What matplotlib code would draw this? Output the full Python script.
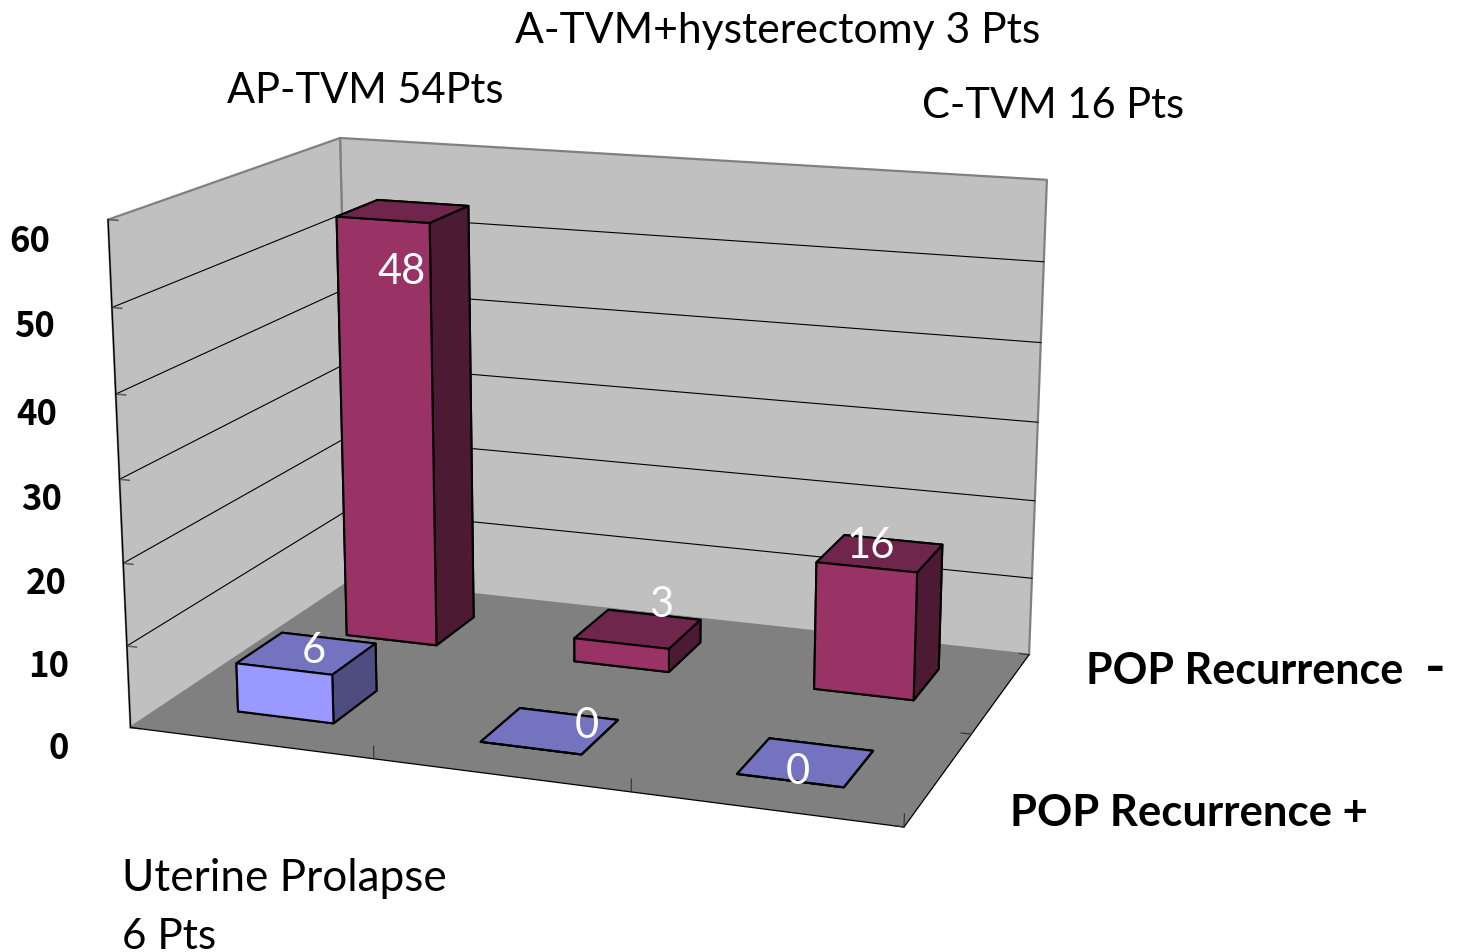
import numpy as np
import matplotlib
matplotlib.use('Agg')
import matplotlib.pyplot as plt
from mpl_toolkits.mplot3d import Axes3D
from mpl_toolkits.mplot3d.art3d import Poly3DCollection

# data
categories = ['Uterine Prolapse', 'AP-TVM', 'A-TVM+hysterectomy', 'C-TVM']
recurrence_plus = [6, 0, 0]
recurrence_minus = [54, 3, 16]       # height as drawn
labels_plus = ['6', '0', '0']
labels_minus = ['48', '3', '16']
z_ticks = [0, 10, 20, 30, 40, 50, 60]

W, H = 1462, 953
plt.rcParams['font.family'] = ['Lato', 'DejaVu Sans']

# camera: pixel position of known points of the chart box, (x, y, z) -> (px, py), weight
box_points = [
    ((0, 0, 0), (130.7, 728.7), 4), ((1, 0, 0), (371.7, 760), 1), ((2, 0, 0), (630, 795), 1),
    ((3, 0, 0), (904, 828), 4), ((3, 1, 0), (972, 735), 1), ((3, 2, 0), (1029, 655.7), 4),
    ((0, 2, 60), (340, 139), 4), ((3, 2, 60), (1047, 181), 4),
    ((0, 0, 60), (108, 220.7), 4), ((0, 0, 50), (112.7, 306.7), 1), ((0, 0, 40), (115, 395), 1),
    ((0, 0, 30), (120, 478), 1), ((0, 0, 20), (124, 562.7), 1), ((0, 0, 10), (127, 646.7), 1),
    ((3, 2, 10), (1033, 578), 1), ((3, 2, 20), (1035, 500), 1), ((3, 2, 30), (1038, 423), 1),
    ((3, 2, 40), (1040, 344), 1), ((3, 2, 50), (1044, 262), 1),
]

def fit_camera(points):
    rows = []
    for (x, y, z), (px, py), k in points:
        z = z / 20
        px, py = px / 1000, py / 1000
        rows.append(np.array([x, y, z, 1, 0, 0, 0, 0, -px*x, -px*y, -px*z, -px]) * k)
        rows.append(np.array([0, 0, 0, 0, x, y, z, 1, -py*x, -py*y, -py*z, -py]) * k)
    p = np.linalg.svd(np.array(rows))[2][-1].reshape(3, 4)
    p = np.diag([1000, 1000, 1]) @ p @ np.diag([1, 1, 1/20, 1])
    w = p[2] @ np.array([1.5, 1, 30, 1])
    p = p / w
    # 4x4 matrix for mplot3d, depth grows away from the viewer
    return np.vstack([p[0], p[1], [0, 0, 0, -1], p[2]])

fig = plt.figure(figsize=(W/100, H/100), dpi=100)
ax = fig.add_axes([0, 0, 1, 1], projection='3d', computed_zorder=False)
ax.set_proj_type('ortho')   # stops mplot3d clipping lines to -1..1
M = fit_camera(box_points)
ax.get_proj = lambda: M
ax.apply_aspect = lambda position=None: None
ax.viewLim.intervalx = (0, W)
ax.viewLim.intervaly = (H, 0)
ax.set_axis_off()

# walls and floor
zmax = z_ticks[-1]
left_wall = [(0, 0, 0), (0, 0, zmax), (0, 2, zmax), (0, 2, 0)]
back_wall = [(0, 2, 0), (0, 2, zmax), (3, 2, zmax), (3, 2, 0)]
floor = [(0, 0, 0), (3, 0, 0), (3, 2, 0), (0, 2, 0)]
ax.add_collection3d(Poly3DCollection([left_wall, back_wall], facecolors='#C0C0C0',
                                     edgecolors='#808080', linewidths=1.6, zorder=1))
ax.add_collection3d(Poly3DCollection([floor], facecolors='#808080', edgecolors='none', zorder=2))

# grid lines
for v in z_ticks[1:-1]:
    ax.plot([0, 0, 3], [0, 2, 2], [v, v, v], color='black', lw=0.8, zorder=3)
for v in z_ticks:
    ax.plot([0, 0.04], [0, 0], [v, v], color='#606060', lw=1.2, zorder=3)
# box outline and ticks
ax.plot([0, 0], [0, 0], [0, zmax], color='black', lw=0.9, zorder=3)
ax.plot([0, 3, 3], [0, 0, 2], [0, 0, 0], color='black', lw=0.9, zorder=3)
for i in [1, 2, 3]:
    ax.plot([i, i], [0, 0], [0, 1.5], color='#303030', lw=0.8, zorder=3)
for i in [0, 1, 2]:
    ax.plot([3, 2.96], [i, i], [0, 0], color='#303030', lw=0.8, zorder=3)

# bars
bar_w = 0.40
bar_d = 0.40
xs, ys, hs, colors = [], [], [], []
for row, vals, front, top, side in [(1, recurrence_minus, '#993366', '#70264C', '#4D1A33'),
                                    (0, recurrence_plus, '#9999FF', '#7373BF', '#4D4D80')]:
    for i, v in enumerate(vals):
        xs.append(i + 0.5 - bar_w/2)
        ys.append(row + 0.5 - bar_d/2)
        hs.append(v)
        colors += [top, top, front, top, side, side]
ax.bar3d(xs, ys, np.zeros(len(xs)), bar_w, bar_d, hs, color=colors, shade=False,
         edgecolor='black', linewidth=1.5, zorder=4)

def label(px, py, s, **kw):
    ax.text2D(px, py, s, transform=ax.transData, zorder=10, **kw)

# value labels
for (px, py), s in zip([(314, 651), (587, 726), (798, 772)], labels_plus):
    label(px, py, s, color='white', fontsize=30, ha='center', va='center')
for (px, py), s in zip([(402, 272), (661, 605), (871, 546)], labels_minus):
    label(px, py, s, color='white', fontsize=30, ha='center', va='center')

# z axis labels
tick_pos = [(59, 749), (49, 667), (46, 584), (42, 500), (37, 415), (35, 327), (30, 241)]
for (px, py), v in zip(tick_pos, z_ticks):
    label(px, py, str(v), color='black', fontsize=25, fontweight='bold', ha='center', va='center',
          family=['Noto Sans CJK JP', 'DejaVu Sans'])

# category headers
label(122, 879, categories[0], fontsize=31.8, ha='left', va='center')
label(122, 937, '6 Pts', fontsize=30.4, ha='left', va='center')
label(227, 91, categories[1] + ' 54Pts', fontsize=30, ha='left', va='center')
label(515, 31, categories[2] + ' 3 Pts', fontsize=30.7, ha='left', va='center')
label(922, 106, categories[3] + ' 16 Pts', fontsize=30, ha='left', va='center')

# series labels
label(1086, 671, 'POP Recurrence', fontsize=31, fontweight='bold', ha='left', va='center')
label(1435, 669, '-', fontsize=40, fontweight='bold', ha='center', va='center')
label(1010, 813, 'POP Recurrence +', fontsize=31.4, fontweight='bold', ha='left', va='center')

fig.savefig('out.png', dpi=100)
